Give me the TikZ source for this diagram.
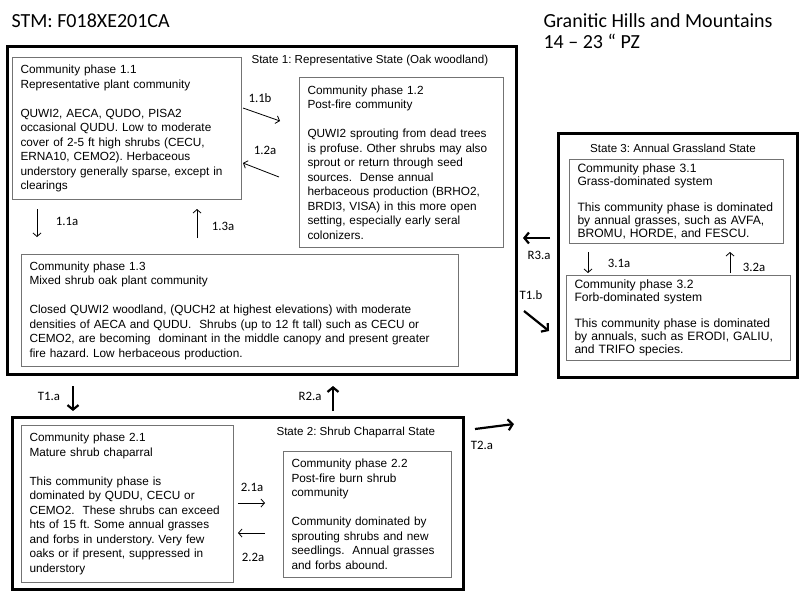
\documentclass[tikz,border=0pt]{standalone}
\usepackage{fontspec}
\setmainfont{Liberation Sans}
\newfontfamily\calib{Carlito}
\usetikzlibrary{arrows.meta}
\frenchspacing

\begin{document}
\begin{tikzpicture}[x=1pt,y=-1pt,
	statebox/.style={draw, line width=2.6pt, anchor=north west, inner sep=0pt},
	phase/.style={draw=black!55, line width=1pt, anchor=north west, align=left, inner xsep=8pt, inner ysep=0pt, font=\fontsize{11.8}{14.5}\selectfont},
	phasethree/.style={phase, font=\fontsize{12.1}{13.2}\selectfont},
	stitle/.style={font=\fontsize{11.6}{14}\selectfont},
	lbl/.style={font=\calib\fontsize{12.8}{14}\selectfont},
	thin/.style={-{Straight Barb[length=3.5pt,width=8pt]}, line width=0.8pt},
	thick/.style={-{Straight Barb[length=4.5pt,width=11pt]}, line width=2.2pt}]
	\useasboundingbox (0,0) rectangle (800,600);
	
	% Headings
	\node[anchor=base west, font=\calib\fontsize{20}{24}\selectfont] (stm) at (8,27) {STM: F018XE201CA};
	\node[anchor=base west, font=\calib\fontsize{20}{24}\selectfont] (site) at (540,27) {Granitic Hills and Mountains};
	\node[anchor=base west, font=\calib\fontsize{20}{24}\selectfont] (pz) at (540,48) {14 – 23 “ PZ};
	
	% State 1
	\node[statebox, minimum width=509pt, minimum height=328pt] (s1) at (6,45) {};
	\node[stitle, anchor=base west] (s1t) at (248,63) {State 1: Representative State (Oak woodland)};
	\node[phase, text width=213pt, minimum height=142pt] (p11) at (12,57) {Community phase 1.1\\Representative plant community\\[14.5pt]QUWI2, AECA, QUDO, PISA2\\occasional QUDU. Low to moderate\\cover of 2-5 ft high shrubs (CECU,\\ERNA10, CEMO2). Herbaceous\\understory generally sparse, except in\\clearings};
	\node[phase, text width=188pt, minimum height=170pt] (p12) at (299,77) {Community phase 1.2\\Post-fire community\\[14.5pt]QUWI2 sprouting from dead trees\\is profuse. Other shrubs may also\\sprout or return through seed\\sources.\ \ Dense annual\\herbaceous production (BRHO2,\\BRDI3, VISA) in this more open\\setting, especially early seral\\colonizers.};
	\node[phase, text width=421pt, minimum height=112pt] (p13) at (21,254) {Community phase 1.3\\Mixed shrub oak plant community\\[14.5pt]Closed QUWI2 woodland, (QUCH2 at highest elevations) with moderate\\densities of AECA and QUDU.\ \ Shrubs (up to 12 ft tall) such as CECU or\\CEMO2, are becoming\ \ dominant in the middle canopy and present greater\\fire hazard. Low herbaceous production.};
	
	\coordinate (a11b-s) at (243,108); \coordinate (a11b-e) at (280,121);
	\draw[thin] (a11b-s) -- (a11b-e);
	\node[lbl] (l11b) at (260,98) {1.1b};
	\coordinate (a12a-s) at (279,177); \coordinate (a12a-e) at (243,163);
	\draw[thin] (a12a-s) -- (a12a-e);
	\node[lbl] (l12a) at (265,150) {1.2a};
	\coordinate (a11a-s) at (37,209); \coordinate (a11a-e) at (37,237);
	\draw[thin] (a11a-s) -- (a11a-e);
	\node[lbl] (l11a) at (67,221) {1.1a};
	\coordinate (a13a-s) at (197,238); \coordinate (a13a-e) at (197,209);
	\draw[thin] (a13a-s) -- (a13a-e);
	\node[lbl] (l13a) at (223,226) {1.3a};
	
	% State 2
	\node[statebox, minimum width=451pt, minimum height=172pt] (s2) at (11,416) {};
	\node[stitle, anchor=base west] (s2t) at (273,435) {State 2: Shrub Chaparral State};
	\node[phase, text width=196pt, minimum height=157pt] (p21) at (21,425) {Community phase 2.1\\Mature shrub chaparral\\[14.5pt]This community phase is\\dominated by QUDU, CECU or\\CEMO2.\ \ These shrubs can exceed\\hts of 15 ft. Some annual grasses\\and forbs in understory. Very few\\oaks or if present, suppressed in\\understory};
	\node[phase, text width=152pt, minimum height=126pt] (p22) at (283,451) {Community phase 2.2\\Post-fire burn shrub\\community\\[14.5pt]Community dominated by\\sprouting shrubs and new\\seedlings.\ \ Annual grasses\\and forbs abound.};
	
	\coordinate (a21a-s) at (238,503); \coordinate (a21a-e) at (265,503);
	\draw[thin] (a21a-s) -- (a21a-e);
	\node[lbl] (l21a) at (252,487) {2.1a};
	\coordinate (a22a-s) at (265,533); \coordinate (a22a-e) at (238,533);
	\draw[thin] (a22a-s) -- (a22a-e);
	\node[lbl] (l22a) at (253,557) {2.2a};
	
	% State 3
	\node[statebox, minimum width=239pt, minimum height=244pt] (s3) at (557,132) {};
	\node[stitle, anchor=base] (s3t) at (673,152) {State 3: Annual Grassland State};
	\node[phasethree, text width=198pt, minimum height=84pt] (p31) at (569,159) {Community phase 3.1\\Grass-dominated system\\[12pt]This community phase is dominated\\by annual grasses, such as AVFA,\\BROMU, HORDE, and FESCU.};
	\node[phasethree, text width=208pt, minimum height=85pt] (p32) at (566,275) {Community phase 3.2\\Forb-dominated system\\[12pt]This community phase is dominated\\by annuals, such as ERODI, GALIU,\\and TRIFO species.};
	
	\coordinate (a31a-s) at (588,252); \coordinate (a31a-e) at (588,273);
	\draw[thin] (a31a-s) -- (a31a-e);
	\node[lbl] (l31a) at (619,263) {3.1a};
	\coordinate (a32a-s) at (730,273); \coordinate (a32a-e) at (730,252);
	\draw[thin] (a32a-s) -- (a32a-e);
	\node[lbl] (l32a) at (754,267) {3.2a};
	
	% Transitions between states
	\coordinate (t1a-s) at (73,386); \coordinate (t1a-e) at (73,411);
	\draw[thick] (t1a-s) -- (t1a-e);
	\node[lbl] (lt1a) at (49,396) {T1.a};
	\coordinate (r2a-s) at (333,411); \coordinate (r2a-e) at (333,386);
	\draw[thick] (r2a-s) -- (r2a-e);
	\node[lbl] (lr2a) at (310,396) {R2.a};
	\coordinate (t2a-s) at (475,429); \coordinate (t2a-e) at (514,424);
	\draw[thick] (t2a-s) -- (t2a-e);
	\node[lbl] (lt2a) at (482,445) {T2.a};
	\coordinate (r3a-s) at (550,238); \coordinate (r3a-e) at (523,238);
	\draw[thick] (r3a-s) -- (r3a-e);
	\node[lbl] (lr3a) at (539,255) {R3.a};
	\coordinate (t1b-s) at (524,311); \coordinate (t1b-e) at (549,331);
	\draw[thick] (t1b-s) -- (t1b-e);
	\node[lbl] (lt1b) at (531,295) {T1.b};
\end{tikzpicture}
\end{document}
